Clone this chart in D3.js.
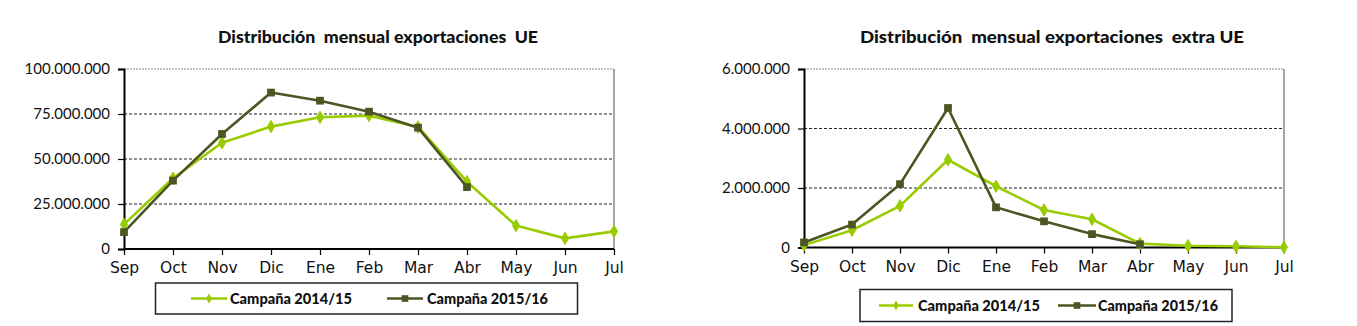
<!DOCTYPE html>
<html><head><meta charset="utf-8">
<script src="https://cdn.jsdelivr.net/npm/d3@7"></script>
<style>
html,body{margin:0;padding:0;background:#fff;}
svg{display:block;font-family:Lato,"DejaVu Sans",sans-serif;}
</style></head>
<body>
<svg id="c" width="1357" height="326"></svg>
<script>
const months = ["Sep","Oct","Nov","Dic","Ene","Feb","Mar","Abr","May","Jun","Jul"];
const seriesNames = ["Campaña 2014/15","Campaña 2015/16"];
const ue1415 = [13700000,39300000,59000000,68000000,73200000,74100000,67800000,37400000,13000000,5900000,9800000];
const ue1516 = [9400000,38000000,63900000,86900000,82400000,76300000,67400000,34400000];
const ueTicks = [0,25000000,50000000,75000000,100000000];
const ex1415 = [80000,580000,1400000,2950000,2060000,1260000,950000,130000,60000,40000,10000];
const ex1516 = [170000,770000,2130000,4690000,1350000,880000,450000,110000];
const exTicks = [0,2000000,4000000,6000000];
const titles = ["Distribución  mensual exportaciones  UE","Distribución  mensual exportaciones  extra UE"];

const colors = ["#99cc00","#4b5622"];
const fmt = d3.formatLocale({decimal:",",thousands:".",grouping:[3],currency:["",""]}).format(",d");
const svg = d3.select("#c");

function chart(cfg){
  const g = svg.append("g");
  const x = d3.scalePoint().domain(months).range([cfg.x0,cfg.x1]);
  const y = d3.scaleLinear().domain([0,cfg.ticks[cfg.ticks.length-1]]).range([cfg.y0,cfg.y1]);
  g.append("g").selectAll("line").data(cfg.ticks.slice(1,-1)).join("line")
    .attr("x1",cfg.x0).attr("x2",cfg.x1).attr("y1",d=>y(d)).attr("y2",d=>y(d))
    .attr("stroke","#222").attr("stroke-width",1.2).attr("stroke-dasharray","3,2");
  const top = cfg.ticks[cfg.ticks.length-1];
  g.append("line").attr("x1",cfg.x0).attr("x2",cfg.x1).attr("y1",y(top)).attr("y2",y(top))
    .attr("stroke","#8a8a8a").attr("stroke-width",1.2).attr("stroke-dasharray","2,1");
  g.append("line").attr("x1",cfg.x1).attr("x2",cfg.x1).attr("y1",y(top)).attr("y2",y(0))
    .attr("stroke","#8a8a8a").attr("stroke-width",1.5);
  const ya = g.append("g").attr("transform",`translate(${cfg.x0},0)`)
    .call(d3.axisLeft(y).tickValues(cfg.ticks).tickFormat(fmt).tickSize(6).tickPadding(8));
  ya.select(".domain").attr("stroke","#000").attr("stroke-width",2);
  ya.selectAll(".tick line").attr("stroke","#000").attr("stroke-width",1.2);
  ya.selectAll("text").attr("font-size",15).attr("fill","#111").attr("font-family","Lato, sans-serif");
  const xa = g.append("g").attr("transform",`translate(0,${cfg.y0})`)
    .call(d3.axisBottom(x).tickSize(6).tickPadding(7));
  xa.select(".domain").attr("stroke","#000").attr("stroke-width",2).attr("d",`M${cfg.x0},0H${cfg.x1}`);
  xa.selectAll(".tick line").attr("stroke","#000").attr("stroke-width",1.2);
  xa.selectAll("text").attr("font-size",15.5).attr("fill","#111").attr("font-family","'DejaVu Sans', sans-serif");
  const line = d3.line().x((d,i)=>x(months[i])).y(d=>y(d));
  [cfg.s1,cfg.s2].forEach((s,k)=>{
    g.append("path").datum(s).attr("d",line).attr("fill","none")
      .attr("stroke",colors[k]).attr("stroke-width",2.6).attr("stroke-linejoin","round");
    const sym = k===0 ? d3.symbol(d3.symbolDiamond,44) : d3.symbol(d3.symbolSquare,60);
    g.append("g").selectAll("path").data(s).join("path")
      .attr("d",sym).attr("transform",(d,i)=>`translate(${x(months[i])},${y(d)})`)
      .attr("fill",colors[k]).attr("stroke",k===0?colors[k]:"none").attr("stroke-width",1);
  });
  g.append("text").attr("x",cfg.tx).attr("y",43).attr("text-anchor","middle")
    .attr("font-size",16).attr("font-weight",900).attr("fill","#111")
    .attr("textLength",cfg.tw).attr("lengthAdjust","spacingAndGlyphs")
    .attr("xml:space","preserve").style("white-space","pre").text(cfg.title);
  const L = cfg.leg;
  g.append("rect").attr("x",L.x).attr("y",L.y).attr("width",L.w).attr("height",L.h)
    .attr("fill","#fff").attr("stroke","#222").attr("stroke-width",1.5);
  L.items.forEach((it,k)=>{
    const cy = L.y + L.h/2;
    g.append("line").attr("x1",it.lx).attr("x2",it.lx+it.lw).attr("y1",cy).attr("y2",cy)
      .attr("stroke",colors[k]).attr("stroke-width",2.6);
    const sym = k===0 ? d3.symbol(d3.symbolDiamond,30) : d3.symbol(d3.symbolSquare,44);
    g.append("path").attr("d",sym).attr("transform",`translate(${it.lx+it.lw/2},${cy})`).attr("fill",colors[k]);
    g.append("text").attr("x",it.tx).attr("y",cy+5).attr("font-size",14.5).attr("font-weight",900)
      .attr("fill","#111").attr("textLength",it.tw).attr("lengthAdjust","spacingAndGlyphs").text(seriesNames[k]);
  });
}

chart({x0:124,x1:614,y0:249,y1:69,ticks:ueTicks,s1:ue1415,s2:ue1516,title:titles[0],tx:378,tw:320,
  leg:{x:155.5,y:283,w:422,h:31,items:[{lx:191,lw:36,tx:230,tw:122},{lx:387,lw:36,tx:427,tw:121}]}});
chart({x0:804,x1:1284,y0:247.5,y1:69,ticks:exTicks,s1:ex1415,s2:ex1516,title:titles[1],tx:1052,tw:384,
  leg:{x:860,y:289.5,w:372,h:32,items:[{lx:879,lw:34,tx:918,tw:122},{lx:1058,lw:38,tx:1098,tw:120}]}});
</script>
</body></html>
